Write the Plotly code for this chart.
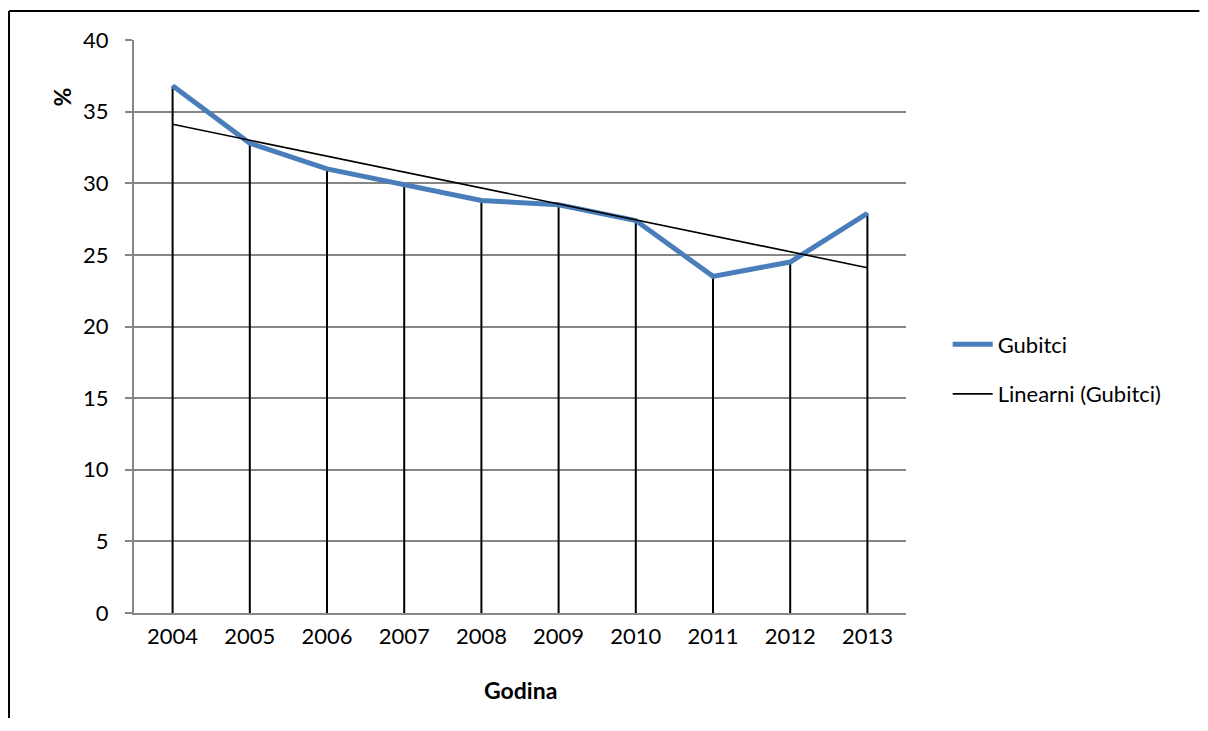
import numpy as np
import plotly.graph_objects as go

years = ["2004", "2005", "2006", "2007", "2008", "2009", "2010", "2011", "2012", "2013"]
gubitci = [36.8, 32.8, 31.0, 29.9, 28.8, 28.5, 27.4, 23.5, 24.5, 27.9]
y_ticks = [0, 5, 10, 15, 20, 25, 30, 35, 40]

FONT = "Lato"
idx = np.arange(len(years))
slope, intercept = np.polyfit(idx, gubitci, 1)
trend = list(intercept + slope * idx)

# drop lines from each point down to the axis
drop_x, drop_y = [], []
for yr, v in zip(years, gubitci):
    drop_x += [yr, yr, None]
    drop_y += [v, 0, None]

fig = go.Figure()
fig.add_trace(go.Scatter(x=drop_x, y=drop_y, mode="lines",
                         line=dict(color="black", width=2),
                         showlegend=False, hoverinfo="skip"))
fig.add_trace(go.Scatter(x=years, y=gubitci, mode="lines", name="Gubitci",
                         line=dict(color="#4A7EBB", width=5),
                         legendgroup="a"))
fig.add_trace(go.Scatter(x=years, y=trend, mode="lines", name="Linearni (Gubitci)",
                         line=dict(color="black", width=1.6),
                         legendgroup="b"))

fig.update_layout(
    width=1192, height=710,
    margin=dict(l=126, r=294, t=32, b=105),
    paper_bgcolor="white", plot_bgcolor="white",
    font=dict(family=FONT, size=22, color="black"),
    showlegend=True,
    legend=dict(x=1.054, y=0.425, xanchor="left", yanchor="middle",
                traceorder="grouped", tracegroupgap=18,
                font=dict(family=FONT, size=22, color="black"),
                itemwidth=40, bgcolor="rgba(0,0,0,0)"),
    xaxis=dict(type="category", categoryorder="array", categoryarray=years,
               range=[-0.5, len(years) - 0.5],
               showgrid=False, showline=True, linecolor="#868686", linewidth=2,
               ticks="", ticklabelstandoff=3,
               tickfont=dict(family=FONT, size=22, color="black")),
    yaxis=dict(range=[0, 40], tickvals=y_ticks, showgrid=True,
               gridcolor="#868686", gridwidth=1.5,
               showline=True, linecolor="#868686", linewidth=2,
               ticks="outside", ticklen=7, tickcolor="#868686", tickwidth=1.5,
               ticklabelstandoff=12, zeroline=False,
               tickfont=dict(family=FONT, size=22, color="black")),
    annotations=[
        dict(text="<b>Godina</b>", xref="paper", yref="paper", x=0.5, y=-0.134,
             showarrow=False, font=dict(family=FONT, size=23, color="black"),
             xanchor="center", yanchor="middle"),
        dict(text="<b>%</b>", xref="paper", yref="paper", x=-0.093, y=0.9,
             showarrow=False, textangle=-90,
             font=dict(family=FONT, size=23, color="black"),
             xanchor="center", yanchor="middle"),
    ],
    shapes=[
        dict(type="line", xref="paper", yref="paper",
             x0=-0.1619, x1=1.38, y0=1.0506, y1=1.0506,
             line=dict(color="black", width=2), layer="above"),
        dict(type="line", xref="paper", yref="paper",
             x0=-0.1619, x1=-0.1619, y0=-0.2, y1=1.0506,
             line=dict(color="black", width=2), layer="above"),
    ],
)

fig.write_html("out.html")
